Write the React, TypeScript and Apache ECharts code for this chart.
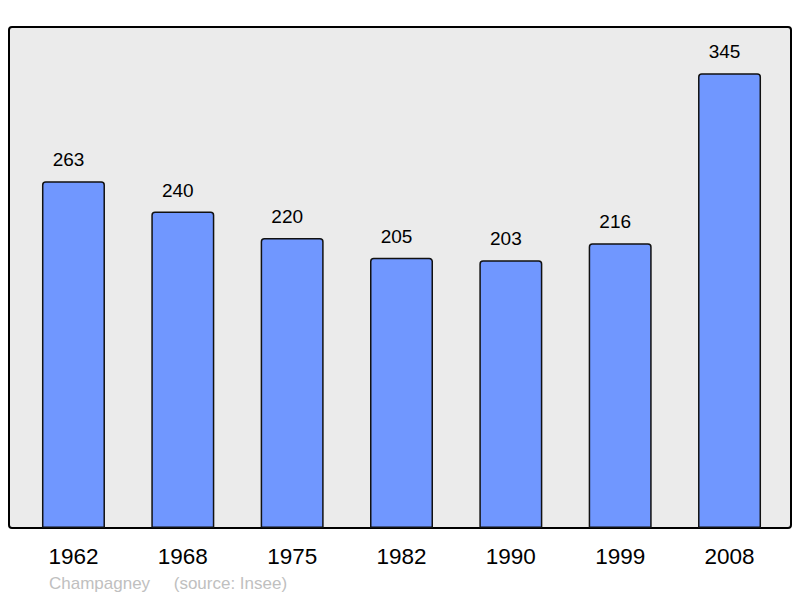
import React, { useEffect, useRef } from "react";
import * as echarts from "echarts";

const years = ["1962", "1968", "1975", "1982", "1990", "1999", "2008"];
const population = [263, 240, 220, 205, 203, 216, 345];
const footerText = "Champagney     (source: Insee)";

export default function App() {
  const ref = useRef<HTMLDivElement>(null);
  useEffect(() => {
    if (!ref.current) return;
    const chart = echarts.init(ref.current, null, { renderer: "svg" });
    chart.setOption({
      animation: false,
      textStyle: { fontFamily: "Liberation Sans, Arial, sans-serif" },
      grid: { left: 18.8, right: 15.8, top: 27, bottom: 70, containLabel: false },
      graphic: [
        {
          type: "rect",
          z: -10,
          shape: { x: 9, y: 27, width: 782, height: 501, r: 3 },
          style: { fill: "#ebebeb", stroke: "#000", lineWidth: 2 },
        },
        {
          type: "text",
          left: 49,
          top: 575,
          style: {
            text: footerText,
            fill: "#c0c0c0",
            fontSize: 17,
            fontFamily: "Liberation Sans, Arial, sans-serif",
          },
        },
      ],
      xAxis: {
        type: "category",
        data: years,
        axisLine: { show: false },
        axisTick: { show: false },
        axisLabel: { color: "#000", fontSize: 22.5, margin: 17 },
      },
      yAxis: {
        type: "value",
        min: 0,
        max: 380,
        show: false,
        splitLine: { show: false },
      },
      series: [
        {
          type: "bar",
          data: population,
          barWidth: 63,
          itemStyle: {
            color: "#7097ff",
            borderColor: "#111",
            borderWidth: 1.5,
            borderRadius: [3, 3, 0, 0],
          },
          label: {
            show: true,
            position: "top",
            distance: 12,
            offset: [-5, 0],
            color: "#000",
            fontSize: 19,
          },
        },
      ],
    });
    return () => chart.dispose();
  }, []);
  return (
    <div
      ref={ref}
      style={{ position: "absolute", left: 0, top: 0, width: 800, height: 598 }}
    />
  );
}
